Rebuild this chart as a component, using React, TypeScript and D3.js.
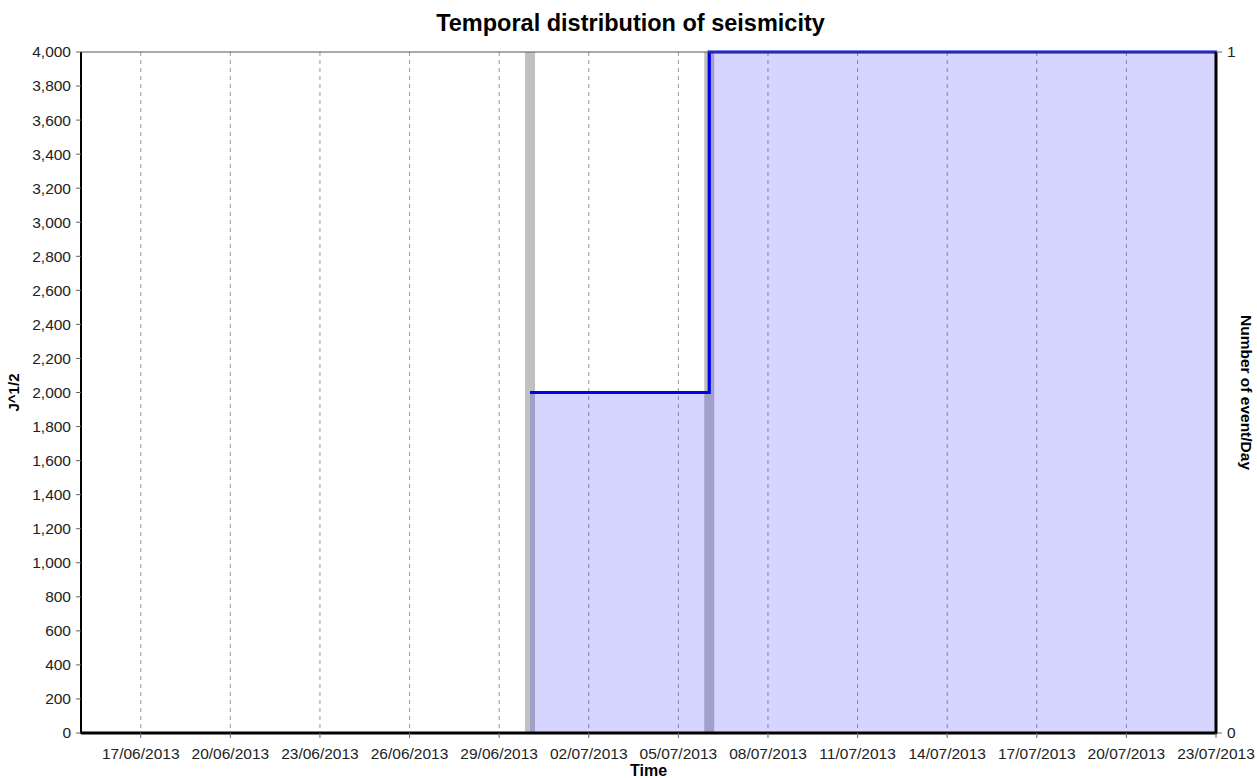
import React from "react";
import * as d3 from "d3";

// ---- data ----
const eventDates = ["2013-06-30", "2013-07-06"];
const eventCounts = [1, 1];
const cumDates = ["2013-06-30", "2013-07-06", "2013-07-23"];
const cumValues = [2000, 4000, 4000];
const xTickDates = [
  "2013-06-17", "2013-06-20", "2013-06-23", "2013-06-26", "2013-06-29",
  "2013-07-02", "2013-07-05", "2013-07-08", "2013-07-11", "2013-07-14",
  "2013-07-17", "2013-07-20", "2013-07-23",
];
const yTicks = d3.range(0, 4001, 200);
const yRightTicks = [0, 1];
const xDomain = ["2013-06-15", "2013-07-23"];

const W = 1257;
const H = 778;
const M = { left: 81, right: 1216, top: 52, bottom: 733 };

const parse = (s: string) => new Date(s + "T00:00:00Z");
const fmtDate = d3.utcFormat("%d/%m/%Y");
const fmtNum = d3.format(",");

export default function App() {
  const x = d3.scaleUtc().domain(xDomain.map(parse)).range([M.left, M.right]);
  const y = d3.scaleLinear().domain([0, 4000]).range([M.bottom, M.top]);
  const yR = d3.scaleLinear().domain([0, 1]).range([M.bottom, M.top]);

  const pts = cumDates.map((d, i) => ({ d: parse(d), v: cumValues[i] }));
  const area = d3
    .area<{ d: Date; v: number }>()
    .x((p) => x(p.d) + 1)
    .y0(y(0))
    .y1((p) => y(p.v))
    .curve(d3.curveStepAfter);
  const line = d3
    .line<{ d: Date; v: number }>()
    .x((p) => x(p.d) + 1)
    .y((p) => y(p.v))
    .curve(d3.curveStepAfter);

  const font = "'Liberation Sans', Arial, sans-serif";

  return (
    <svg
      width={W}
      height={H}
      style={{ position: "absolute", left: 0, top: 0, background: "#fff" }}
      fontFamily={font}
    >
      <rect x={0} y={0} width={W} height={H} fill="#fff" />
      {/* title */}
      <text x={W / 2 + 2} y={31} textAnchor="middle" fontSize={23.5} fontWeight="bold" fill="#000">
        Temporal distribution of seismicity
      </text>

      {/* grid */}
      {xTickDates.map((t) => (
        <line
          key={"g" + t}
          x1={x(parse(t))}
          x2={x(parse(t))}
          y1={M.top}
          y2={M.bottom}
          stroke="#999"
          strokeWidth={1}
          strokeDasharray="4,4"
        />
      ))}

      {/* event bars (right axis) */}
      {eventDates.map((t, i) => (
        <rect
          key={"b" + t}
          x={x(parse(t)) - 4}
          width={10}
          y={yR(eventCounts[i])}
          height={yR(0) - yR(eventCounts[i])}
          fill="#c0c0c0"
        />
      ))}

      {/* cumulative area + line */}
      <path d={area(pts) || ""} fill="#0000ff" fillOpacity={0.165} />
      <path d={line(pts) || ""} fill="none" stroke="#0000ee" strokeWidth={3.2} />

      {/* top border */}
      <line x1={M.left} x2={M.right} y1={M.top} y2={M.top} stroke="#555" strokeWidth={1} />

      {/* left axis */}
      <line x1={M.left} x2={M.left} y1={M.top} y2={M.bottom + 1} stroke="#000" strokeWidth={2} />
      {yTicks.map((t) => (
        <g key={"y" + t}>
          <line x1={M.left - 5} x2={M.left} y1={y(t)} y2={y(t)} stroke="#666" />
          <text x={M.left - 10} y={y(t)} dy="0.35em" textAnchor="end" fontSize={15.5} fill="#222">
            {fmtNum(t)}
          </text>
        </g>
      ))}
      <text
        transform={`translate(19,${(M.top + M.bottom) / 2}) rotate(-90)`}
        textAnchor="middle"
        fontSize={15}
        fontWeight="bold"
        fill="#000"
      >
        J^1/2
      </text>

      {/* right axis */}
      <line x1={M.right} x2={M.right} y1={M.top} y2={M.bottom + 1} stroke="#000" strokeWidth={3} />
      {yRightTicks.map((t) => (
        <g key={"r" + t}>
          <line x1={M.right} x2={M.right + 6} y1={yR(t)} y2={yR(t)} stroke="#666" />
          <text x={M.right + 11} y={yR(t)} dy="0.35em" textAnchor="start" fontSize={15.5} fill="#222">
            {t}
          </text>
        </g>
      ))}
      <text
        transform={`translate(1241,${(M.top + M.bottom) / 2}) rotate(90)`}
        textAnchor="middle"
        fontSize={15.5}
        fontWeight="bold"
        fill="#000"
      >
        Number of event/Day
      </text>

      {/* bottom axis */}
      <line x1={M.left} x2={M.right + 1} y1={M.bottom} y2={M.bottom} stroke="#000" strokeWidth={3} />
      {xTickDates.map((t) => (
        <g key={"x" + t}>
          <line x1={x(parse(t))} x2={x(parse(t))} y1={M.bottom} y2={M.bottom + 5} stroke="#666" />
          <text x={x(parse(t))} y={759} textAnchor="middle" fontSize={15.5} fill="#222">
            {fmtDate(parse(t))}
          </text>
        </g>
      ))}
      <text x={(M.left + M.right) / 2} y={776} textAnchor="middle" fontSize={16} fontWeight="bold" fill="#000">
        Time
      </text>
    </svg>
  );
}
